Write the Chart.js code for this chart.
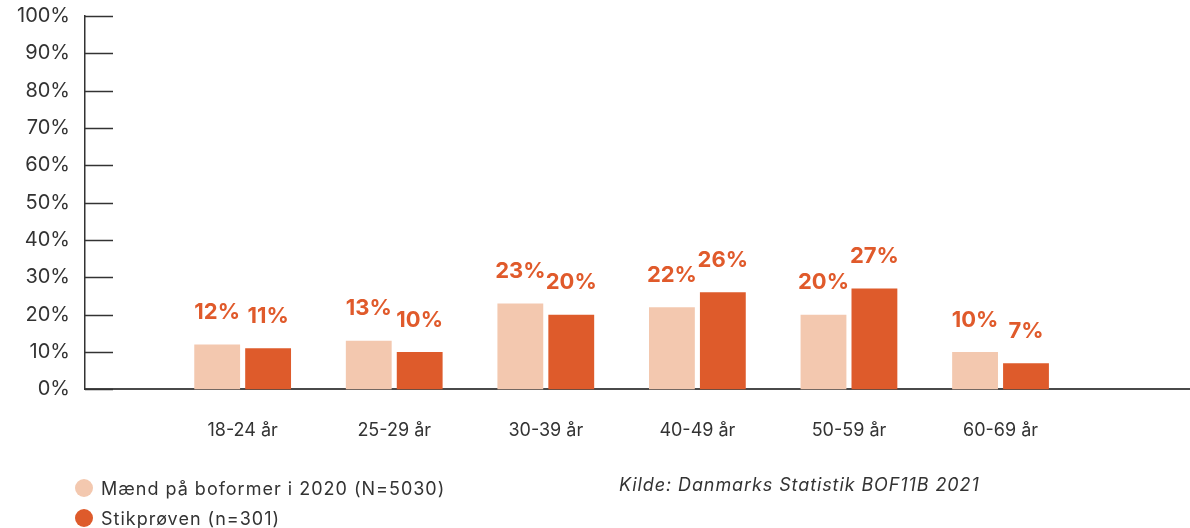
<!DOCTYPE html>
<html>
<head>
<meta charset="utf-8">
<script src="https://cdn.jsdelivr.net/npm/chart.js@4.4.1/dist/chart.umd.min.js"></script>
<style>
  html, body { margin: 0; padding: 0; background: #fff; }
  #wrap { position: relative; width: 1190px; height: 528px; }
  #legend { position: absolute; left: 75px; top: 473px; font: 18px Inter, sans-serif; letter-spacing: 1px; color: #333; }
  #legend div { display: flex; align-items: center; height: 30px; }
  #legend span.dot { width: 18px; height: 18px; border-radius: 50%; margin-right: 8px; }
  #source { position: absolute; left: 619px; top: 474px; font: italic 18px Inter, sans-serif; letter-spacing: 0.9px; color: #333; }
</style>
</head>
<body>
<div id="wrap">
  <canvas id="chartAlder" width="1190" height="528"></canvas>
  <div id="legend"></div>
  <div id="source">Kilde: Danmarks Statistik BOF11B 2021</div>
</div>
<script>
const kategorier = ["18-24 år", "25-29 år", "30-39 år", "40-49 år", "50-59 år", "60-69 år"];
const boformer = [12, 13, 23, 22, 20, 10];
const stikproeven = [11, 10, 20, 26, 27, 7];
const serieNavne = ["Mænd på boformer i 2020 (N=5030)", "Stikprøven (n=301)"];
const farver = ["#F3C8AF", "#DE5B2B"];

const tekstFarve = "#333333";
const labelFarve = "#E05A2B";

// korte streger inde i plotområdet ved hver y-tick
const tickStreger = {
  id: "tickStreger",
  afterDraw(chart) {
    const y = chart.scales.y;
    const ctx = chart.ctx;
    ctx.save();
    ctx.strokeStyle = "#333";
    ctx.lineWidth = 1.5;
    y.ticks.forEach((t) => {
      const py = Math.round(y.getPixelForValue(t.value)) + 0.5;
      ctx.beginPath();
      ctx.moveTo(chart.chartArea.left, py);
      ctx.lineTo(chart.chartArea.left + 28, py);
      ctx.stroke();
    });
    ctx.restore();
  },
};

// procent-tal over søjlerne
const vaerdiLabels = {
  id: "vaerdiLabels",
  afterDatasetsDraw(chart) {
    const ctx = chart.ctx;
    ctx.save();
    ctx.font = "bold 22px Inter, sans-serif";
    ctx.fillStyle = labelFarve;
    ctx.textAlign = "center";
    ctx.textBaseline = "middle";
    chart.data.datasets.forEach((ds, di) => {
      const meta = chart.getDatasetMeta(di);
      meta.data.forEach((bar, i) => {
        ctx.fillText(ds.data[i].y + "%", bar.x, bar.y - 32);
      });
    });
    ctx.restore();
  },
};

const chart = new Chart(document.getElementById("chartAlder"), {
  type: "bar",
  data: {
    datasets: [
      {
        label: serieNavne[0],
        data: boformer.map((v, i) => ({ x: i, y: v })),
        backgroundColor: farver[0],
        borderWidth: 0,
      },
      {
        label: serieNavne[1],
        data: stikproeven.map((v, i) => ({ x: i, y: v })),
        backgroundColor: farver[1],
        borderWidth: 0,
      },
    ],
  },
  options: {
    responsive: false,
    animation: false,
    categoryPercentage: 0.672,
    barPercentage: 0.9,
    layout: { padding: { top: 16, left: 2, right: 0, bottom: 57 } },
    plugins: {
      legend: { display: false },
      tooltip: { enabled: false },
    },
    scales: {
      x: {
        type: "linear",
        offset: false,
        min: -1.04,
        max: 6.25,
        grid: { display: false, drawTicks: false },
        border: { display: true, color: "#4a4a4a", width: 2 },
        afterFit: (s) => { s.paddingLeft = 0; s.paddingRight = 0; },
        ticks: {
          stepSize: 1,
          padding: 30,
          color: tekstFarve,
          font: { family: "Inter", size: 18 },
          autoSkip: false,
          maxRotation: 0,
          callback: (v) => (Number.isInteger(v) && kategorier[v] ? kategorier[v] : ""),
        },
      },
      y: {
        min: 0,
        max: 100,
        grid: { display: false, drawTicks: false },
        border: { display: true, color: "#333", width: 1.5 },
        afterFit: (s) => { s.paddingTop = 0; s.paddingBottom = 0; },
        ticks: {
          stepSize: 10,
          padding: 15,
          color: tekstFarve,
          font: { family: "Inter", size: 20 },
          callback: (v) => v + "%",
        },
      },
    },
  },
  plugins: [tickStreger, vaerdiLabels],
});

const legend = document.getElementById("legend");
chart.data.datasets.forEach((ds) => {
  const row = document.createElement("div");
  row.innerHTML = '<span class="dot" style="background:' + ds.backgroundColor + '"></span>' + ds.label;
  legend.appendChild(row);
});
</script>
</body>
</html>
